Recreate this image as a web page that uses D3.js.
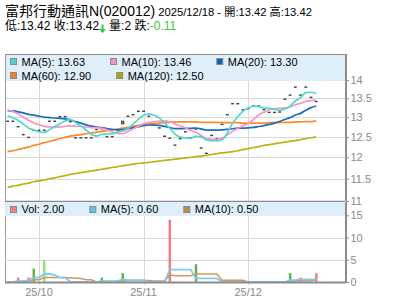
<!DOCTYPE html>
<html><head><meta charset="utf-8">
<script src="https://cdn.jsdelivr.net/npm/d3@7"></script>
<style>
html,body{margin:0;padding:0;background:#fff;}
svg{display:block;font-family:"Liberation Sans",Arial,"Noto Sans CJK TC",sans-serif;}
</style></head><body>
<svg id="c" width="400" height="301"></svg>
<script>
// ---------- data ----------
const stockName = "富邦行動通訊N(020012)";
const quoteDate = "2025/12/18";
const quoteOpen = 13.42, quoteHigh = 13.42, quoteLow = 13.42, quoteClose = 13.42;
const quoteVolume = 2, quoteChange = -0.11;

const dates = [
 "2025/09/22","2025/09/23","2025/09/24","2025/09/25","2025/09/26","2025/09/30",
 "2025/10/01","2025/10/02","2025/10/03","2025/10/07","2025/10/08","2025/10/09","2025/10/13","2025/10/14","2025/10/15","2025/10/16",
 "2025/10/17","2025/10/20","2025/10/21","2025/10/22","2025/10/23","2025/10/27","2025/10/28","2025/10/29","2025/10/30","2025/10/31",
 "2025/11/03","2025/11/04","2025/11/05","2025/11/06","2025/11/07","2025/11/10","2025/11/11","2025/11/12","2025/11/13","2025/11/14",
 "2025/11/17","2025/11/18","2025/11/19","2025/11/20","2025/11/21","2025/11/24","2025/11/25","2025/11/26","2025/11/27","2025/11/28",
 "2025/12/01","2025/12/02","2025/12/03","2025/12/04","2025/12/05","2025/12/08","2025/12/09","2025/12/10","2025/12/11","2025/12/12",
 "2025/12/15","2025/12/16","2025/12/17","2025/12/18"
];
const closes = [
 12.90,12.90,12.76,12.56,12.49,12.67,12.67,12.67,12.90,12.90,
 13.02,13.02,12.89,12.48,12.48,12.48,12.48,12.69,12.71,12.51,
 12.51,12.68,12.83,13.03,13.07,13.16,13.16,13.03,12.84,12.73,
 12.52,12.47,12.30,12.46,12.63,12.48,12.70,12.23,12.10,12.54,
 12.46,12.82,13.07,13.36,13.36,13.20,13.23,13.30,13.30,13.20,
 13.13,13.13,13.14,13.48,13.59,13.81,13.59,13.81,13.53,13.42
];
const opens = [
 12.90,12.90,12.76,12.56,12.49,12.67,12.67,12.67,12.90,12.90,
 13.02,13.02,12.89,12.48,12.48,12.48,12.48,12.69,12.71,12.51,
 12.51,12.68,12.90,13.03,13.07,13.16,13.16,13.03,12.84,12.73,
 12.52,12.47,12.30,12.46,12.63,12.48,12.70,12.23,12.10,12.54,
 12.46,12.82,13.07,13.36,13.36,13.20,13.23,13.30,13.30,13.20,
 13.13,13.13,13.14,13.48,13.59,13.81,13.59,13.81,13.53,13.42
];
const volumes = [
 0,0,1,0,1,3,0,5,0,0,
 0,0,0,0,0,0,0,0,1,0,
 0,0,2,0,0,0,0,0,0,0,
 0,14,0,0,0,0,4,0,0,0,
 0,0,0,0,0,0,0,0,0,0,
 0,0,0,0,2,0,1,0,0,2
];
// closes / volumes before the visible window (estimated from the MA lines)
const priorCloses = [13.10,13.20,13.15,13.25,13.10,13.15,13.20,13.10,13.15,13.20,13.30,13.40,13.35,13.30,13.35,13.15,13.10,13.05,13.00];
const priorVolumes = [0,0,0,0,0,0,0,0,0];
const ma60 = [
 12.14,12.16,12.19,12.22,12.25,12.29,12.32,12.36,12.39,12.42,
 12.46,12.49,12.52,12.54,12.56,12.58,12.60,12.62,12.64,12.66,
 12.68,12.70,12.72,12.74,12.77,12.79,12.81,12.83,12.84,12.85,
 12.86,12.87,12.88,12.88,12.88,12.88,12.88,12.87,12.87,12.87,
 12.87,12.86,12.86,12.86,12.86,12.85,12.85,12.85,12.85,12.85,
 12.86,12.86,12.86,12.87,12.87,12.88,12.88,12.89,12.89,12.90
];
const ma120 = [
 11.30,11.33,11.35,11.38,11.40,11.43,11.45,11.47,11.50,11.52,
 11.55,11.57,11.60,11.62,11.64,11.66,11.68,11.70,11.72,11.74,
 11.76,11.78,11.80,11.82,11.84,11.86,11.87,11.88,11.90,11.91,
 11.93,11.94,11.96,11.97,11.99,12.00,12.02,12.03,12.05,12.07,
 12.09,12.11,12.12,12.14,12.16,12.19,12.21,12.24,12.26,12.29,
 12.31,12.33,12.35,12.37,12.39,12.41,12.43,12.46,12.48,12.50
];
const priceTicks = [11, 11.5, 12, 12.5, 13, 13.5, 14];
const volumeTicks = [0, 5, 10, 15];
const monthTicks = [{date:"2025/10/01", label:"25/10"},{date:"2025/11/03", label:"25/11"},{date:"2025/12/01", label:"25/12"}];

// ---------- helpers ----------
function movingAvg(series, prior, n){
  const all = prior.concat(series);
  return series.map((_, i) => {
    const end = prior.length + i;
    return d3.mean(all.slice(Math.max(0, end - n + 1), end + 1));
  });
}
const f2 = d3.format(".2f");
const ma5 = movingAvg(closes, priorCloses, 5);
const ma10 = movingAvg(closes, priorCloses, 10);
const ma20 = movingAvg(closes, priorCloses, 20);
const vma5 = movingAvg(volumes, priorVolumes, 5);
const vma10 = movingAvg(volumes, priorVolumes, 10);

// ---------- layout ----------
const svg = d3.select("#c");
const L = 5, R = 345, PT = 54, PB = 201, LEG1 = 27, VT = 202, VB = 282, LEG2 = 14;
const GRID = "#dadada", AX = "#8c8c8c", TXT = "#8a8a8a";

const x = d3.scaleLinear().domain([-0.5, 64.5]).range([L, R]);
const y = d3.scaleLog().domain([11, 14.75]).range([PB, PT]);
const yv = d3.scaleLinear().domain([0, 18]).range([VB, VT]);
const idx = d => dates.indexOf(d);

// clip
const defs = svg.append("defs");
defs.append("clipPath").attr("id","cp").append("rect").attr("x",L).attr("y",PT).attr("width",R-L).attr("height",PB-PT);
defs.append("clipPath").attr("id","cv").append("rect").attr("x",L).attr("y",VT).attr("width",R-L).attr("height",VB-VT);

// ---------- title ----------
const t1 = svg.append("text").attr("x", 5).attr("y", 16).attr("fill", "#000");
t1.append("tspan").attr("font-size", 14).text(stockName);
t1.append("tspan").attr("font-size", 11.2).text(` ${quoteDate} - 開:${f2(quoteOpen)} 高:${f2(quoteHigh)}`);

let cx = 5;
const l2a = svg.append("text").attr("x", cx).attr("y", 29.5).attr("font-size", 12).attr("fill","#000")
  .text(`低:${f2(quoteLow)} 收:${f2(quoteClose)}`);
cx += l2a.node().getComputedTextLength();
const arrowCol = "#33cc33";
if (quoteChange < 0) {
  svg.append("path").attr("fill", arrowCol)
    .attr("d", `M${cx+2.5},24.5 h2 v4.5 h2.2 l-3.2,4.2 l-3.2,-4.2 h2.2 z`);
}
cx += 10;
const l2b = svg.append("text").attr("x", cx).attr("y", 29.5).attr("font-size", 12).attr("fill","#000")
  .text(`量:${quoteVolume} ${quoteChange < 0 ? "跌" : "漲"}:`);
cx += l2b.node().getComputedTextLength();
svg.append("text").attr("x", cx).attr("y", 29.5).attr("font-size", 12).attr("fill", arrowCol).text(quoteChange.toFixed(2));

// ---------- price panel ----------
const gP = svg.append("g");
gP.selectAll("line.hg").data(priceTicks).join("line")
  .attr("x1", L).attr("x2", R).attr("y1", d => Math.round(y(d)) + 0.5).attr("y2", d => Math.round(y(d)) + 0.5)
  .attr("stroke", GRID).attr("stroke-width", 1);
gP.selectAll("line.vg").data(monthTicks).join("line")
  .attr("x1", d => Math.round(x(idx(d.date))) + 0.5).attr("x2", d => Math.round(x(idx(d.date))) + 0.5)
  .attr("y1", PT + LEG1).attr("y2", PB).attr("stroke", GRID);

// candles
const gC = gP.append("g").attr("clip-path","url(#cp)");
closes.forEach((c, i) => {
  const o = opens[i];
  const top = y(Math.max(o, c)), bot = y(Math.min(o, c));
  const cxx = x(i);
  if (bot - top < 1) {
    gC.append("rect").attr("x", cxx - 1.4).attr("y", top - 0.6).attr("width", 2.8).attr("height", 1.4).attr("fill", "#3c3c3c");
  } else {
    gC.append("rect").attr("x", cxx - 1.2).attr("y", top).attr("width", 2.4).attr("height", bot - top)
      .attr("fill", "#9a7f86").attr("stroke", "#3c3c3c").attr("stroke-width", 0.9);
  }
});

// MA lines
const lineP = d3.line().x((d, i) => x(i)).y(d => y(d)).curve(d3.curveMonotoneX);
const maSeries = [
  {v: ma120, c: "#bdb214"},
  {v: ma60, c: "#fb8a2a"},
  {v: ma20, c: "#1e6cbc"},
  {v: ma10, c: "#fb93c6"},
  {v: ma5, c: "#4ed8d2"}
];
const gL = gP.append("g").attr("clip-path","url(#cp)");
maSeries.forEach(s => {
  gL.append("path").attr("d", lineP(s.v)).attr("fill","none").attr("stroke", s.c).attr("stroke-width", 1.7);
});

// legend 1
svg.append("rect").attr("x", L).attr("y", PT).attr("width", R - L).attr("height", LEG1).attr("fill", "#deeffa");
const legend1 = [
  [{n:"MA(5)", v:ma5[ma5.length-1], c:"#48d6d0"}, {n:"MA(10)", v:ma10[ma10.length-1], c:"#f890c2"}, {n:"MA(20)", v:ma20[ma20.length-1], c:"#0a62b0"}],
  [{n:"MA(60)", v:ma60[ma60.length-1], c:"#f48024"}, {n:"MA(120)", v:ma120[ma120.length-1], c:"#b4a400"}]
];
function drawLegendRow(items, baseY, sqY){
  let lx = 10.5;
  items.forEach(it => {
    svg.append("rect").attr("x", lx).attr("y", sqY).attr("width", 6).attr("height", 6)
      .attr("fill", it.c).attr("stroke", "#8a8a8a").attr("stroke-width", 1);
    const t = svg.append("text").attr("x", lx + 11).attr("y", baseY).attr("font-size", 11).attr("fill", "#000")
      .text(`${it.n}: ${f2(it.v)}`);
    lx = lx + 11 + t.node().getComputedTextLength() + 25.5;
  });
}
drawLegendRow(legend1[0], 66.3, 58.5);
drawLegendRow(legend1[1], 80, 72.5);

// frame
svg.append("line").attr("x1", L).attr("x2", R).attr("y1", PT + 0.5).attr("y2", PT + 0.5).attr("stroke", AX);
svg.append("line").attr("x1", L + 0.5).attr("x2", L + 0.5).attr("y1", PT).attr("y2", VB).attr("stroke", "#999");
svg.append("line").attr("x1", L).attr("x2", R).attr("y1", PB + 0.5).attr("y2", PB + 0.5).attr("stroke", AX).attr("stroke-width", 1.5);

// price axis
const axP = svg.append("g").attr("transform", `translate(${R + 1},0)`)
  .call(d3.axisRight(y).tickValues(priceTicks).tickFormat(d3.format("")).tickSize(3).tickPadding(1.5));
axP.select(".domain").attr("stroke", AX).attr("stroke-width", 2).attr("d", `M0,${PT}V${PB}`);
axP.selectAll(".tick line").attr("stroke", AX);
axP.selectAll(".tick text").attr("fill", TXT).attr("font-size", 11).attr("font-family", null);

// ---------- volume panel ----------
const gV = svg.append("g");
gV.selectAll("line.hv").data(volumeTicks.filter(d => d > 0)).join("line")
  .attr("x1", L).attr("x2", R).attr("y1", d => Math.round(yv(d)) + 0.5).attr("y2", d => Math.round(yv(d)) + 0.5)
  .attr("stroke", GRID);
gV.selectAll("line.vv").data(monthTicks).join("line")
  .attr("x1", d => Math.round(x(idx(d.date))) + 0.5).attr("x2", d => Math.round(x(idx(d.date))) + 0.5)
  .attr("y1", VT + LEG2).attr("y2", VB + 3).attr("stroke", GRID);

const gB = gV.append("g").attr("clip-path","url(#cv)");
const allCloses = priorCloses.concat(closes);
volumes.forEach((v, i) => {
  if (v <= 0) return;
  const prev = allCloses[priorCloses.length + i - 1];
  const col = closes[i] > prev ? "#62b446" : (closes[i] < prev ? "#f27d86" : "#94e27c");
  gB.append("rect").attr("x", x(i) - 1.2).attr("y", yv(v)).attr("width", 2.5).attr("height", VB - yv(v)).attr("fill", col);
});
const lineV = d3.line().x((d, i) => x(i)).y(d => yv(d));
gB.append("path").attr("d", lineV(vma10)).attr("fill","none").attr("stroke","#d29a55").attr("stroke-width",1.6);
gB.append("path").attr("d", lineV(vma5)).attr("fill","none").attr("stroke","#7ccbf0").attr("stroke-width",1.8);

// legend 2
svg.append("rect").attr("x", L).attr("y", VT).attr("width", R - L).attr("height", LEG2).attr("fill", "#deeffa");
{
  const items = [{n:"Vol", v:volumes[volumes.length-1], c:"#f27d86"}, {n:"MA(5)", v:vma5[vma5.length-1], c:"#5ec0ee"}, {n:"MA(10)", v:vma10[vma10.length-1], c:"#c38a45"}];
  let lx = 10.5;
  items.forEach(it => {
    svg.append("rect").attr("x", lx).attr("y", 206.5).attr("width", 6).attr("height", 6)
      .attr("fill", it.c).attr("stroke", "#8a8a8a");
    const t = svg.append("text").attr("x", lx + 11).attr("y", 213.3).attr("font-size", 11).attr("fill", "#000")
      .text(`${it.n}: ${f2(it.v)}`);
    lx = lx + 11 + t.node().getComputedTextLength() + 25.5;
  });
}
svg.append("line").attr("x1", L).attr("x2", R + 1).attr("y1", VB + 0.5).attr("y2", VB + 0.5).attr("stroke", AX).attr("stroke-width", 2);

const axV = svg.append("g").attr("transform", `translate(${R + 1},0)`)
  .call(d3.axisRight(yv).tickValues(volumeTicks).tickSize(3).tickPadding(1.5));
axV.select(".domain").attr("stroke", AX).attr("stroke-width", 2).attr("d", `M0,${VT}V${VB}`);
axV.selectAll(".tick line").attr("stroke", AX);
axV.selectAll(".tick text").attr("fill", TXT).attr("font-size", 11).attr("font-family", null);

// x labels
svg.selectAll("text.xl").data(monthTicks).join("text")
  .attr("x", d => x(idx(d.date))).attr("y", 296).attr("text-anchor", "middle")
  .attr("font-size", 11).attr("fill", TXT).text(d => d.label);
</script>
</body></html>
